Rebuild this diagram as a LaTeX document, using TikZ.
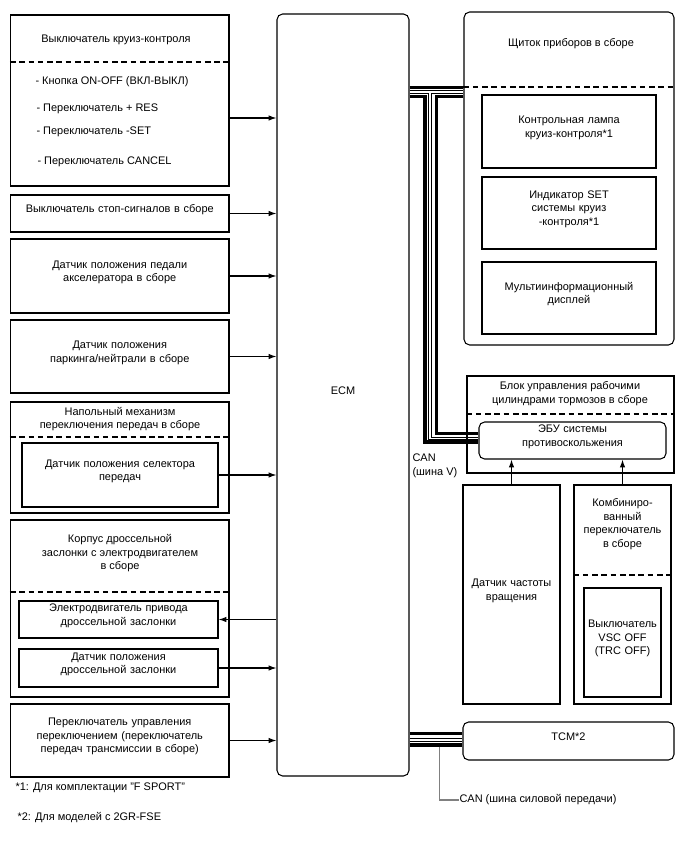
\documentclass[tikz,border=0pt]{standalone}
\usepackage{fontspec}
\setmainfont{Liberation Sans}
\usetikzlibrary{arrows.meta,fit}

\begin{document}
\begin{tikzpicture}[x=0.025cm, y=-0.025cm, line width=0.75pt,
  font=\fontsize{7.8}{9.6}\selectfont,
  box/.style={draw, inner sep=0pt, fit={#1}},
  rbox/.style={draw, rounded corners=4pt, inner sep=0pt, fit={#1}},
  txt/.style={align=center, inner sep=0pt},
  sig/.style={-{Latex[length=5.5pt,width=3.8pt]}},
  sep/.style={dash pattern=on 4pt off 2.6pt},
  canthick/.style={line width=2.4pt},
  canthin/.style={line width=0.7pt}]

  \useasboundingbox (0,0) rectangle (688,852);

  % -- ECM --
  \node[rbox={(277,14) (409,776)}, txt] (ecm) {ECM};

  % -- Cruise control switch --
  \node[box={(10.5,15) (229,186)}] (cruise) {};
  \node[txt] (cruisettl) at (116,40) {Выключатель круиз-контроля};
  \draw[sep] (cruise.west |- 0,62) -- (cruise.east |- 0,62);
  \node[anchor=west, inner sep=0pt] (onoff) at (35,82) {- Кнопка ON-OFF (ВКЛ-ВЫКЛ)};
  \node[anchor=west, inner sep=0pt] (res) at (36,109) {- Переключатель + RES};
  \node[anchor=west, inner sep=0pt] (set) at (36,132) {- Переключатель -SET};
  \node[anchor=west, inner sep=0pt] (cancel) at (37,162) {- Переключатель CANCEL};
  \draw[sig] (cruise.east |- 0,118) -- (ecm.west |- 0,118);

  % -- Stop light switch --
  \node[box={(10.5,195) (229,232)}, txt] (stop) {Выключатель стоп-сигналов в сборе};
  \draw[sig] (stop.east) -- (stop.east -| ecm.west);

  % -- Accelerator pedal sensor --
  \node[box={(10.5,239) (229,313)}, txt] (pedal) {Датчик положения педали\\акселератора в сборе};
  \draw[sig] (pedal.east) -- (pedal.east -| ecm.west);

  % -- Park/neutral sensor --
  \node[box={(10.5,320) (229,393)}, txt] (pnsw) {Датчик положения\\паркинга/нейтрали в сборе};
  \draw[sig] (pnsw.east) -- (pnsw.east -| ecm.west);

  % -- Floor shift --
  \node[box={(10.5,402) (229,513)}] (floor) {};
  \node[txt] (floorttl) at (120,419) {Напольный механизм\\переключения передач в сборе};
  \draw[sep] (floor.west |- 0,437) -- (floor.east |- 0,437);
  \node[box={(22,443) (218,507)}, txt] (selector) {Датчик положения селектора\\передач};
  \draw[sig] (selector.east) -- (selector.east -| ecm.west);

  % -- Throttle body --
  \node[box={(10.5,520) (229,697)}] (throttle) {};
  \node[txt] (throttlettl) at (120,553.5) {Корпус дроссельной\\заслонки с электродвигателем\\в сборе};
  \draw[sep] (throttle.west |- 0,592) -- (throttle.east |- 0,592);
  \node[box={(19,601) (218,638)}, txt] (motor) {Электродвигатель привода\\дроссельной заслонки};
  \draw[sig] (motor.east -| ecm.west) -- (motor.east);
  \node[box={(19,649) (218,687)}, txt] (tps) {Датчик положения\\дроссельной заслонки};
  \draw[sig] (tps.east) -- (tps.east -| ecm.west);

  % -- Shift control switch --
  \node[box={(10.5,704) (229,777)}, txt] (shift) {Переключатель управления\\переключением (переключатель\\передач трансмиссии в сборе)};
  \draw[sig] (shift.east) -- (shift.east -| ecm.west);

  % Notes
  \node[anchor=west, inner sep=0pt] (note1) at (15,788) {*1: Для комплектации "F SPORT"};
  \node[anchor=west, inner sep=0pt] (note2) at (17,818) {*2: Для моделей с 2GR-FSE};

  % -- Combination meter --
  \node[rbox={(464,12) (674,345)}] (panel) {};
  \node[txt] (panelttl) at (571,44) {Щиток приборов в сборе};
  \draw[sep] (panel.west |- 0,87) -- (panel.east |- 0,87);
  \node[box={(482,95) (656,168)}, txt] (lamp) {Контрольная лампа\\круиз-контроля*1};
  \node[box={(482,177) (656,249)}, txt] (setind) {Индикатор SET\\системы круиз\\-контроля*1};
  \node[box={(482,262) (656,334)}, txt] (mid) {Мультиинформационный\\дисплей};

  % -- Brake actuator --
  \node[box={(467,376) (674,473)}] (brake) {};
  \node[txt] (brakettl) at (570,393.5) {Блок управления рабочими\\цилиндрами тормозов в сборе};
  \draw[sep] (brake.west |- 0,414) -- (brake.east |- 0,414);
  \node[rbox={(479,422) (666,459)}, txt] (abs) {ЭБУ системы\\противоскольжения};

  % -- Speed sensor --
  \node[box={(463,485) (560,704)}, txt] (speed) {Датчик частоты\\вращения};
  \draw[sig] (speed.north) -- (speed.north |- abs.south);

  % -- Combination switch --
  \node[box={(574,485) (671,704)}] (comb) {};
  \node[txt] (combttl) at (622.5,524) {Комбиниро-\\ванный\\переключатель\\в сборе};
  \draw[sep] (comb.west |- 0,575) -- (comb.east |- 0,575);
  \node[box={(584,588) (661,697)}, txt] (vsc) {Выключатель\\VSC OFF\\(TRC OFF)};
  \draw[sig] (comb.north) -- (comb.north |- abs.south);

  % -- TCM --
  \node[rbox={(463,722) (674,760)}, txt] (tcm) {TCM*2};

  % -- CAN (V bus) --
  \draw[canthick] (ecm.east |- 0,87.6) -- (panel.west |- 0,87.6);
  \draw[canthin] (ecm.east |- 0,90.6) -- (panel.west |- 0,90.6);
  \draw[canthin] (ecm.east |- 0,93.2) -| (428.3,439.2) -- (abs.west |- 0,439.2);
  \draw[canthick] (ecm.east |- 0,96.8) -| (425,442) -- (abs.west |- 0,442);
  \draw[canthin] (panel.west |- 0,93.2) -| (431.3,437) -- (abs.west |- 0,437);
  \draw[canthick] (panel.west |- 0,96.8) -| (436.7,433.5) -- (abs.west |- 0,433.5);
  \node[anchor=west, align=left, inner sep=0pt] (canv) at (412,466) {CAN\\(шина V)};

  % -- CAN (powertrain bus) --
  \draw[canthick] (ecm.east |- 0,733.7) -- (tcm.west |- 0,733.7);
  \draw[canthin] (ecm.east |- 0,738.3) -- (tcm.west |- 0,738.3);
  \draw[canthin] (ecm.east |- 0,741.2) -- (tcm.west |- 0,741.2);
  \draw[canthick] (ecm.east |- 0,745) -- (tcm.west |- 0,745);
  \node[anchor=west, inner sep=0pt] (canpt) at (459,800) {CAN (шина силовой передачи)};
  \draw[gray, line width=0.9pt] (439.3,746.5) |- (canpt.west);

\end{tikzpicture}
\end{document}
